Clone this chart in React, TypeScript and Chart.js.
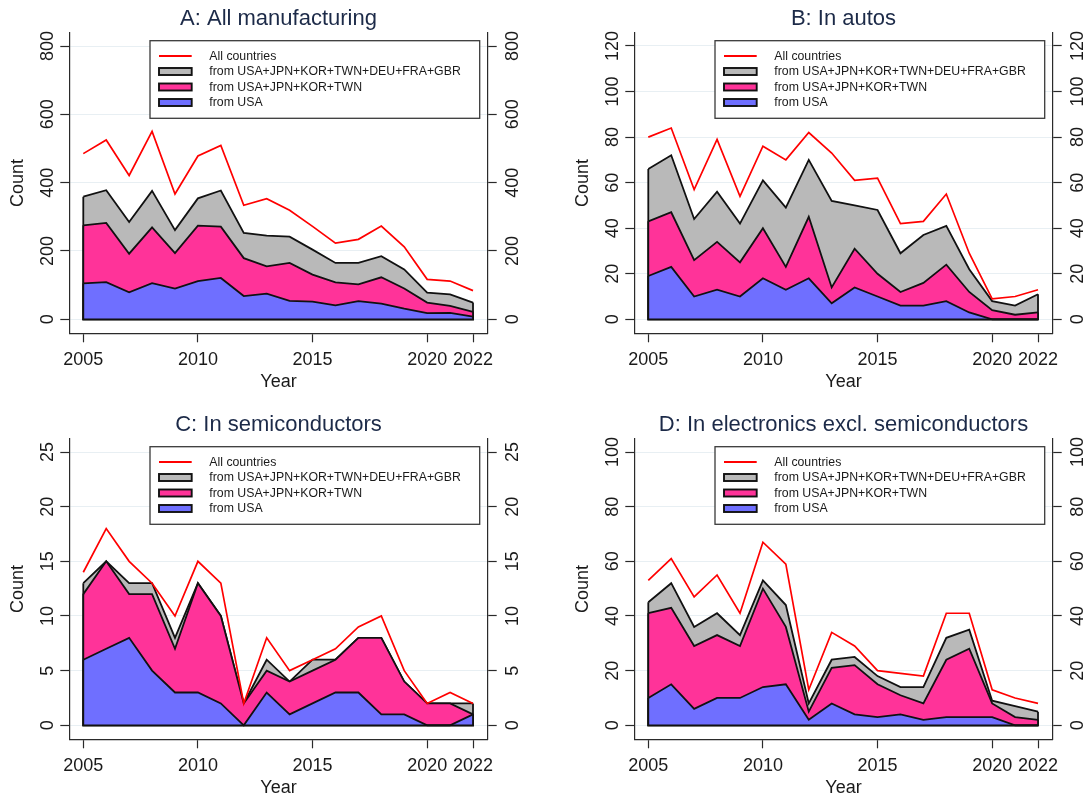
import React, { useEffect, useRef } from 'react';
import { Chart, registerables } from 'chart.js';

Chart.register(...registerables);

// ---------- data ----------
const years = [2005, 2006, 2007, 2008, 2009, 2010, 2011, 2012, 2013, 2014, 2015, 2016, 2017, 2018, 2019, 2020, 2021, 2022];
const xTickYears = [2005, 2010, 2015, 2020, 2022];
const seriesLabels = ['All countries', 'from USA', 'from USA+JPN+KOR+TWN', 'from USA+JPN+KOR+TWN+DEU+FRA+GBR'];

const mfgAll = [485, 525, 421, 550, 367, 478, 509, 334, 353, 319, 272, 223, 234, 273, 212, 117, 112, 84];
const mfgG7 = [359, 378, 285, 376, 261, 354, 377, 253, 245, 242, 204, 165, 165, 185, 146, 78, 73, 49];
const mfgG4 = [275, 282, 192, 269, 194, 274, 271, 179, 155, 165, 131, 108, 102, 123, 90, 49, 39, 22];
const mfgUSA = [105, 109, 79, 106, 90, 112, 121, 68, 75, 54, 52, 41, 53, 46, 31, 18, 19, 8];

const autoAll = [80, 84, 57, 79, 54, 76, 70, 82, 73, 61, 62, 42, 43, 55, 29, 9, 10, 13];
const autoG7 = [66, 72, 44, 56, 42, 61, 49, 70, 52, 50, 48, 29, 37, 41, 22, 8, 6, 11];
const autoG4 = [43, 47, 26, 34, 25, 40, 23, 45, 14, 31, 20, 12, 16, 24, 12, 4, 2, 3];
const autoUSA = [19, 23, 10, 13, 10, 18, 13, 18, 7, 14, 10, 6, 6, 8, 3, 0, 0, 0];

const semiAll = [14, 18, 15, 13, 10, 15, 13, 2, 8, 5, 6, 7, 9, 10, 5, 2, 3, 2];
const semiG7 = [13, 15, 13, 13, 8, 13, 10, 2, 6, 4, 6, 6, 8, 8, 4, 2, 2, 2];
const semiG4 = [12, 15, 12, 12, 7, 13, 10, 2, 5, 4, 5, 6, 8, 8, 4, 2, 2, 1];
const semiUSA = [6, 7, 8, 5, 3, 3, 2, 0, 3, 1, 2, 3, 3, 1, 1, 0, 0, 1];

const elecAll = [53, 61, 47, 55, 41, 67, 59, 13, 34, 29, 20, 19, 18, 41, 41, 13, 10, 8];
const elecG7 = [45, 52, 36, 41, 33, 53, 44, 8, 24, 25, 18, 14, 14, 32, 35, 9, 7, 5];
const elecG4 = [41, 43, 29, 33, 29, 50, 36, 5, 21, 22, 15, 11, 8, 24, 28, 8, 3, 2];
const elecUSA = [10, 15, 6, 10, 10, 14, 15, 2, 8, 4, 3, 4, 2, 3, 3, 3, 0, 0];

// ---------- styles / layout ----------
const FONT = '"Liberation Sans", Arial, sans-serif';
const AXIS = '#2a2a2a';
const GRID = '#e8eff3';
const TEXT = '#1a1a1a';
const TITLE = '#1c2a48';
const RED = '#ff0000';
const BLUE = '#6f6fff';
const PINK = '#ff3399';
const GRAY = '#b9b9b9';
const OUT = '#111111';
const OUT_W = 1.8;

const PW = 543;
const AREA_W = 418.4;
const AREA_H = 300.6;
const PAD_LO = 14 / 273.3;
const PAD_HI = 13.3 / 273.3;
const X_MIN = 2005 - 14 / 22.94;
const X_MAX = 2022 + 14.7 / 22.94;

type PanelCfg = {
  title: string;
  all: number[]; g7: number[]; g4: number[]; usa: number[];
  yTop: number; yStep: number;
  px: number; py: number; ph: number;
  areaLeft: number; areaTop: number;
};

const panels: PanelCfg[] = [
  { title: 'A: All manufacturing', all: mfgAll, g7: mfgG7, g4: mfgG4, usa: mfgUSA, yTop: 800, yStep: 200, px: 0, py: 0, ph: 400, areaLeft: 69.3, areaTop: 32.7 },
  { title: 'B: In autos', all: autoAll, g7: autoG7, g4: autoG4, usa: autoUSA, yTop: 120, yStep: 20, px: 543, py: 0, ph: 400, areaLeft: 91.3, areaTop: 32.7 },
  { title: 'C: In semiconductors', all: semiAll, g7: semiG7, g4: semiG4, usa: semiUSA, yTop: 25, yStep: 5, px: 0, py: 400, ph: 397, areaLeft: 69.3, areaTop: 38.7 },
  { title: 'D: In electronics excl. semiconductors', all: elecAll, g7: elecG7, g4: elecG4, usa: elecUSA, yTop: 100, yStep: 20, px: 543, py: 400, ph: 397, areaLeft: 91.3, areaTop: 38.7 },
];

function vText(ctx: CanvasRenderingContext2D, text: string, x: number, y: number) {
  ctx.save();
  ctx.translate(x, y);
  ctx.rotate(-Math.PI / 2);
  ctx.textAlign = 'center';
  ctx.textBaseline = 'alphabetic';
  ctx.fillText(text, 0, 0);
  ctx.restore();
}

const decorPlugin = {
  id: 'decor',
  afterDatasetDraw(chart: any, args: any) {
    const ds = chart.data.datasets[args.index];
    if (!ds.fill) return;
    const pts = args.meta.data;
    if (!pts.length) return;
    const base = chart.scales.y.getPixelForValue(0);
    const first = pts[0];
    const last = pts[pts.length - 1];
    const ctx = chart.ctx as CanvasRenderingContext2D;
    ctx.save();
    ctx.strokeStyle = OUT;
    ctx.lineWidth = OUT_W;
    ctx.lineJoin = 'miter';
    ctx.beginPath();
    ctx.moveTo(first.x, first.y);
    ctx.lineTo(first.x, base);
    ctx.lineTo(last.x, base);
    ctx.lineTo(last.x, last.y);
    ctx.stroke();
    ctx.restore();
  },
  afterDraw(chart: any) {
    const ctx = chart.ctx as CanvasRenderingContext2D;
    const ca = chart.chartArea;
    const ys = chart.scales.y;
    const xs = chart.scales.x;
    const opts = chart.options.plugins.decor;
    const cx = (ca.left + ca.right) / 2;
    const cy = (ca.top + ca.bottom) / 2;
    ctx.save();
    // title
    ctx.fillStyle = TITLE;
    ctx.font = `22px ${FONT}`;
    ctx.textAlign = 'center';
    ctx.textBaseline = 'alphabetic';
    ctx.fillText(opts.title, cx, ca.top - 8);
    // tick labels
    ctx.fillStyle = TEXT;
    ctx.font = `18px ${FONT}`;
    ys.ticks.forEach((t: any) => {
      const y = ys.getPixelForValue(t.value);
      vText(ctx, String(t.value), ca.left - 16, y);
      vText(ctx, String(t.value), ca.right + 30, y);
    });
    ctx.textAlign = 'center';
    xs.ticks.forEach((t: any) => {
      ctx.fillText(String(t.value), xs.getPixelForValue(t.value), ca.bottom + 32);
    });
    ctx.fillText('Year', cx, ca.bottom + 53.5);
    vText(ctx, 'Count', ca.left - 46, cy);

    // legend
    const bl = ca.left + 80.7;
    const br = ca.right - 8;
    const bt = ca.top + 8;
    const bb = ca.top + 85.6;
    ctx.fillStyle = '#ffffff';
    ctx.fillRect(bl, bt, br - bl, bb - bt);
    ctx.strokeStyle = '#3a3a3a';
    ctx.lineWidth = 1.3;
    ctx.strokeRect(bl, bt, br - bl, bb - bt);
    const order = [0, 3, 2, 1];
    ctx.font = `12.3px ${FONT}`;
    ctx.textAlign = 'left';
    ctx.textBaseline = 'middle';
    order.forEach((di, i) => {
      const ds = chart.data.datasets[di];
      const ry = bt + 15.3 + i * 15.5;
      const kx1 = bl + 9;
      const kx2 = bl + 41.7;
      if (!ds.fill) {
        ctx.strokeStyle = ds.borderColor;
        ctx.lineWidth = 1.8;
        ctx.beginPath();
        ctx.moveTo(kx1, ry);
        ctx.lineTo(kx2, ry);
        ctx.stroke();
      } else {
        ctx.fillStyle = ds.backgroundColor;
        ctx.fillRect(kx1, ry - 3.5, kx2 - kx1, 7);
        ctx.strokeStyle = OUT;
        ctx.lineWidth = 1.9;
        ctx.strokeRect(kx1, ry - 3.5, kx2 - kx1, 7);
      }
      ctx.fillStyle = TEXT;
      ctx.fillText(ds.label, bl + 59.3, ry + 0.5);
    });
    ctx.restore();
  },
};

function Panel({ cfg }: { cfg: PanelCfg }) {
  const ref = useRef<HTMLCanvasElement>(null);
  useEffect(() => {
    if (!ref.current) return;
    const yMin = -cfg.yTop * PAD_LO;
    const yMax = cfg.yTop * (1 + PAD_HI);
    const yTicks: number[] = [];
    for (let v = 0; v <= cfg.yTop + 1e-9; v += cfg.yStep) yTicks.push(v);
    const toXY = (arr: number[]) => arr.map((v, i) => ({ x: years[i], y: v }));
    const areaBottom = cfg.areaTop + AREA_H;
    const areaRight = cfg.areaLeft + AREA_W;
    const gridCommon = { tickLength: 9, tickColor: AXIS, tickWidth: 1.2 };
    const chart = new Chart(ref.current, {
      type: 'line',
      data: {
        datasets: [
          { label: seriesLabels[0], data: toXY(cfg.all), borderColor: RED, borderWidth: 1.7, fill: false, pointRadius: 0, tension: 0 },
          { label: seriesLabels[1], data: toXY(cfg.usa), borderColor: OUT, backgroundColor: BLUE, borderWidth: OUT_W, fill: 'origin', pointRadius: 0, tension: 0 },
          { label: seriesLabels[2], data: toXY(cfg.g4), borderColor: OUT, backgroundColor: PINK, borderWidth: OUT_W, fill: 'origin', pointRadius: 0, tension: 0 },
          { label: seriesLabels[3], data: toXY(cfg.g7), borderColor: OUT, backgroundColor: GRAY, borderWidth: OUT_W, fill: 'origin', pointRadius: 0, tension: 0 },
        ],
      },
      options: {
        animation: false,
        responsive: false,
        layout: { padding: { top: cfg.areaTop, left: 0, right: 0, bottom: 0 } },
        plugins: {
          legend: { display: false },
          tooltip: { enabled: false },
          title: { display: false },
          decor: { title: cfg.title },
        } as any,
        scales: {
          x: {
            type: 'linear',
            min: X_MIN,
            max: X_MAX,
            afterBuildTicks: (s: any) => { s.ticks = xTickYears.map((v) => ({ value: v })); },
            afterFit: (s: any) => { s.height = cfg.ph - areaBottom; },
            ticks: { display: false },
            grid: { drawOnChartArea: false, ...gridCommon },
            border: { color: AXIS, width: 1.2 },
          },
          y: {
            type: 'linear',
            position: 'left',
            min: yMin,
            max: yMax,
            afterBuildTicks: (s: any) => { s.ticks = yTicks.map((v) => ({ value: v })); },
            afterFit: (s: any) => { s.width = cfg.areaLeft; },
            ticks: { display: false },
            grid: { color: GRID, lineWidth: 1, ...gridCommon },
            border: { color: AXIS, width: 1.2 },
          },
          y2: {
            type: 'linear',
            position: 'right',
            min: yMin,
            max: yMax,
            afterBuildTicks: (s: any) => { s.ticks = yTicks.map((v) => ({ value: v })); },
            afterFit: (s: any) => { s.width = PW - areaRight; },
            ticks: { display: false },
            grid: { drawOnChartArea: false, ...gridCommon },
            border: { color: AXIS, width: 1.2 },
          },
        },
      } as any,
      plugins: [decorPlugin as any],
    });
    return () => chart.destroy();
  }, [cfg]);
  return (
    <div style={{ position: 'absolute', left: cfg.px, top: cfg.py, width: PW, height: cfg.ph }}>
      <canvas ref={ref} width={PW} height={cfg.ph} style={{ display: 'block' }} />
    </div>
  );
}

export default function App() {
  return (
    <div style={{ position: 'absolute', left: 0, top: 0, width: 1086, height: 797, background: '#ffffff', overflow: 'hidden' }}>
      {panels.map((p) => (
        <Panel key={p.title} cfg={p} />
      ))}
    </div>
  );
}
